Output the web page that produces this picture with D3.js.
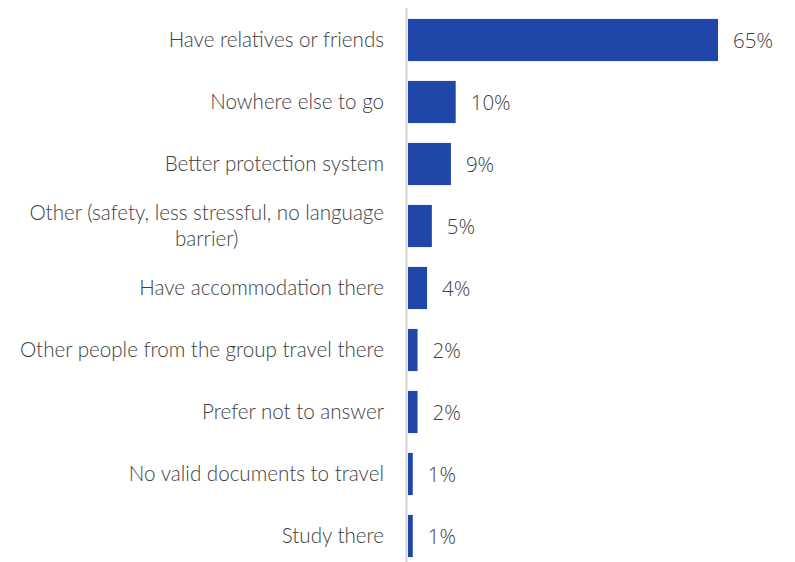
<!DOCTYPE html>
<html>
<head>
<meta charset="utf-8">
<script src="https://cdn.jsdelivr.net/npm/d3@7"></script>
<style>
  html, body { margin: 0; padding: 0; background: #ffffff; }
  svg { display: block; }
</style>
</head>
<body>
<svg id="chart" width="795" height="562"></svg>
<script>
// Reasons for choosing the destination (share of respondents, %)
const categories = [
  "Have relatives or friends",
  "Nowhere else to go",
  "Better protection system",
  "Other (safety, less stressful, no language barrier)",
  "Have accommodation there",
  "Other people from the group travel there",
  "Prefer not to answer",
  "No valid documents to travel",
  "Study there"
];
const values = [65, 10, 9, 5, 4, 2, 2, 1, 1];
const valueLabels = ["65%", "10%", "9%", "5%", "4%", "2%", "2%", "1%", "1%"];
// Line breaks for long category names
const labelLines = {
  "Other (safety, less stressful, no language barrier)": ["Other (safety, less stressful, no language", "barrier)"]
};

const svg = d3.select("#chart");
const barColor = "#1f46a8";
const textColor = "#404040";
const labelFont = "Lato, 'Gill Sans', sans-serif";
const valueFont = "'Open Sans', 'Noto Sans', sans-serif";

const x = d3.scaleLinear().domain([0, 65]).range([408, 718]);
const y = d3.scaleBand().domain(categories).range([9, 567])
  .paddingInner(0.32).paddingOuter(0.16);

// Bars
svg.append("g").selectAll("rect")
  .data(categories)
  .join("rect")
  .attr("x", x(0))
  .attr("y", d => y(d))
  .attr("width", (d, i) => x(values[i]) - x(0))
  .attr("height", y.bandwidth())
  .attr("fill", barColor);

// Category axis line
svg.append("line")
  .attr("x1", 406.5).attr("x2", 406.5)
  .attr("y1", 8).attr("y2", 562)
  .attr("stroke", "#d4d4d4")
  .attr("stroke-width", 2);

// Category labels (right-aligned; wrapped lines centred within their block)
const labelRight = 384;
const lineHeight = 26;
const labelG = svg.append("g")
  .attr("font-family", labelFont)
  .attr("font-size", 20.6)
  .attr("font-weight", 300)
  .attr("fill", textColor);

categories.forEach(cat => {
  const lines = labelLines[cat] || [cat];
  const cy = y(cat) + y.bandwidth() / 2;
  const t = labelG.append("text");
  const tspans = lines.map((ln, k) =>
    t.append("tspan")
      .attr("dy", k === 0 ? 0 : lineHeight)
      .text(ln));
  const widths = tspans.map(s => s.node().getComputedTextLength());
  const maxW = d3.max(widths);
  const center = labelRight - maxW / 2;
  const firstBaseline = cy + 7 - (lines.length - 1) * lineHeight / 2;
  t.attr("y", firstBaseline);
  tspans.forEach(s => {
    s.attr("x", center).attr("text-anchor", "middle");
  });
});

// Value labels
svg.append("g")
  .attr("font-family", valueFont)
  .attr("font-size", 20.5)
  .attr("font-weight", 300)
  .attr("fill", textColor)
  .selectAll("text")
  .data(categories)
  .join("text")
  .attr("x", (d, i) => x(values[i]) + 15)
  .attr("y", d => y(d) + y.bandwidth() / 2 + 7.5)
  .text((d, i) => valueLabels[i]);
</script>
</body>
</html>
